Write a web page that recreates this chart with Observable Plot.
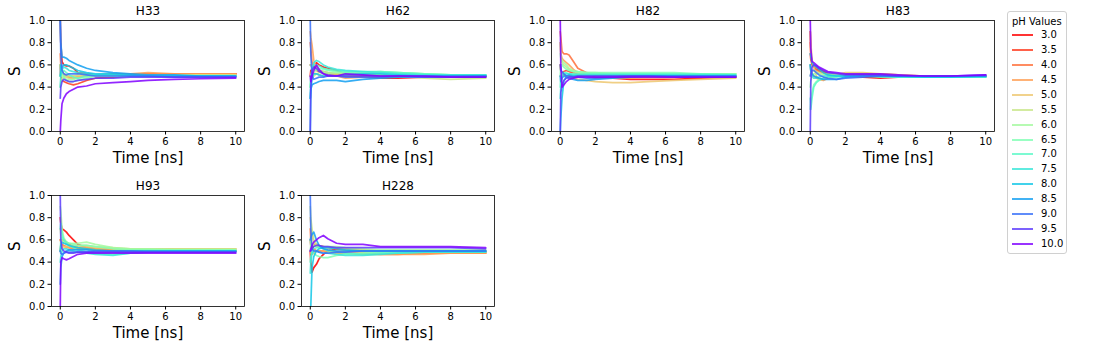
<!DOCTYPE html>
<html>
<head>
<meta charset="utf-8">
<script src="https://cdn.jsdelivr.net/npm/d3@7"></script>
<script src="https://cdn.jsdelivr.net/npm/@observablehq/plot@0.6"></script>
<style>
  body { margin: 0; background: white; font-family: "DejaVu Sans", sans-serif; }
  #root { position: relative; width: 1110px; height: 357px; overflow: hidden; }
  .panel { position: absolute; }
  #legend { position: absolute; left: 1007px; top: 11px; width: 58px; height: 241px;
            border: 1px solid #d0d0d0; border-radius: 3px; background: white; }
  #legend .ttl { position: absolute; left: 4px; top: 3px; font-size: 10px; line-height: 14px; color: #000; }
  #legend .sw { position: absolute; left: 4px; width: 21px; height: 2px; opacity: 0.8; }
  #legend .lb { position: absolute; left: 33px; font-size: 10px; line-height: 14px; color: #000; }
</style>
</head>
<body>
<div id="root"></div>
<script>
const pHValues = ["3.0","3.5","4.0","4.5","5.0","5.5","6.0","6.5","7.0","7.5","8.0","8.5","9.0","9.5","10.0"];
const panelNames = ["H33","H62","H82","H83","H93","H228"];
const timeNs = [0, 0.03, 0.1, 0.2, 0.35, 0.5, 0.75, 1, 1.5, 2, 3, 4, 5, 6.5, 8, 10];
const xTicks = [0, 2, 4, 6, 8, 10];
const yTicks = [0, 0.2, 0.4, 0.6, 0.8, 1.0];

const sH33 = [
  [1.0, 0.8, 0.63, 0.6, 0.59, 0.59, 0.57, 0.53, 0.52, 0.51, 0.51, 0.51, 0.52, 0.52, 0.52, 0.52],
  [0.6, 0.5, 0.46, 0.45, 0.44, 0.43, 0.42, 0.43, 0.46, 0.48, 0.49, 0.5, 0.51, 0.52, 0.52, 0.52],
  [0.7, 0.6, 0.55, 0.52, 0.5, 0.49, 0.48, 0.49, 0.5, 0.5, 0.51, 0.52, 0.52, 0.52, 0.52, 0.52],
  [0.5, 0.55, 0.53, 0.51, 0.5, 0.5, 0.5, 0.5, 0.5, 0.51, 0.52, 0.52, 0.53, 0.52, 0.52, 0.52],
  [0.6, 0.55, 0.52, 0.5, 0.49, 0.48, 0.48, 0.49, 0.5, 0.5, 0.51, 0.51, 0.51, 0.51, 0.51, 0.51],
  [0.4, 0.45, 0.48, 0.49, 0.5, 0.5, 0.5, 0.51, 0.51, 0.51, 0.51, 0.51, 0.51, 0.51, 0.51, 0.51],
  [0.5, 0.52, 0.5, 0.48, 0.47, 0.47, 0.47, 0.48, 0.49, 0.5, 0.5, 0.5, 0.5, 0.5, 0.5, 0.5],
  [0.6, 0.56, 0.53, 0.5, 0.46, 0.45, 0.45, 0.46, 0.48, 0.5, 0.5, 0.5, 0.5, 0.5, 0.5, 0.5],
  [0.5, 0.52, 0.54, 0.55, 0.53, 0.51, 0.49, 0.48, 0.5, 0.51, 0.5, 0.5, 0.5, 0.5, 0.5, 0.5],
  [0.4, 0.5, 0.56, 0.58, 0.57, 0.55, 0.54, 0.53, 0.52, 0.51, 0.51, 0.5, 0.5, 0.5, 0.5, 0.5],
  [0.5, 0.6, 0.58, 0.6, 0.6, 0.59, 0.57, 0.55, 0.53, 0.52, 0.52, 0.51, 0.5, 0.5, 0.5, 0.5],
  [1.0, 0.8, 0.67, 0.67, 0.66, 0.64, 0.62, 0.6, 0.57, 0.55, 0.53, 0.52, 0.51, 0.51, 0.5, 0.5],
  [1.0, 0.7, 0.55, 0.52, 0.51, 0.52, 0.52, 0.52, 0.51, 0.5, 0.5, 0.5, 0.5, 0.49, 0.49, 0.49],
  [0.3, 0.4, 0.45, 0.47, 0.46, 0.45, 0.45, 0.46, 0.47, 0.48, 0.48, 0.49, 0.49, 0.49, 0.49, 0.49],
  [0.0, 0.1, 0.25, 0.3, 0.34, 0.36, 0.38, 0.4, 0.41, 0.43, 0.44, 0.45, 0.46, 0.47, 0.475, 0.48]
];
const sH62 = [
  [0.5, 0.55, 0.55, 0.58, 0.62, 0.6, 0.58, 0.57, 0.55, 0.52, 0.5, 0.48, 0.48, 0.49, 0.5, 0.5],
  [0.6, 0.6, 0.58, 0.56, 0.55, 0.54, 0.53, 0.52, 0.51, 0.5, 0.49, 0.48, 0.49, 0.49, 0.5, 0.5],
  [0.8, 0.75, 0.62, 0.58, 0.56, 0.55, 0.54, 0.53, 0.52, 0.51, 0.5, 0.5, 0.49, 0.49, 0.5, 0.5],
  [0.9, 0.85, 0.78, 0.64, 0.58, 0.55, 0.53, 0.52, 0.5, 0.48, 0.49, 0.5, 0.5, 0.5, 0.5, 0.5],
  [0.5, 0.5, 0.52, 0.53, 0.52, 0.51, 0.5, 0.5, 0.5, 0.5, 0.51, 0.51, 0.5, 0.49, 0.49, 0.49],
  [0.4, 0.45, 0.48, 0.5, 0.52, 0.53, 0.53, 0.52, 0.52, 0.52, 0.52, 0.51, 0.5, 0.48, 0.47, 0.48],
  [0.5, 0.5, 0.52, 0.54, 0.55, 0.55, 0.54, 0.53, 0.53, 0.53, 0.53, 0.53, 0.53, 0.52, 0.51, 0.51],
  [0.6, 0.6, 0.58, 0.56, 0.56, 0.57, 0.56, 0.55, 0.54, 0.53, 0.53, 0.54, 0.53, 0.52, 0.51, 0.51],
  [0.4, 0.5, 0.56, 0.6, 0.6, 0.59, 0.57, 0.56, 0.55, 0.54, 0.54, 0.54, 0.53, 0.52, 0.51, 0.51],
  [0.3, 0.45, 0.55, 0.62, 0.64, 0.63, 0.6, 0.58, 0.56, 0.55, 0.54, 0.53, 0.52, 0.51, 0.51, 0.51],
  [0.0, 0.35, 0.48, 0.52, 0.52, 0.51, 0.5, 0.5, 0.5, 0.51, 0.52, 0.52, 0.51, 0.5, 0.5, 0.5],
  [0.3, 0.38, 0.42, 0.43, 0.44, 0.45, 0.46, 0.46, 0.46, 0.45, 0.47, 0.48, 0.49, 0.49, 0.49, 0.5],
  [1.0, 0.7, 0.5, 0.47, 0.48, 0.49, 0.49, 0.5, 0.5, 0.49, 0.49, 0.49, 0.5, 0.5, 0.5, 0.5],
  [0.0, 0.4, 0.55, 0.58, 0.57, 0.54, 0.52, 0.51, 0.5, 0.5, 0.5, 0.5, 0.5, 0.49, 0.49, 0.49],
  [0.5, 0.45, 0.5, 0.55, 0.6, 0.56, 0.52, 0.5, 0.5, 0.52, 0.51, 0.5, 0.5, 0.5, 0.49, 0.49]
];
const sH82 = [
  [0.6, 0.55, 0.52, 0.51, 0.5, 0.5, 0.5, 0.5, 0.5, 0.49, 0.48, 0.47, 0.47, 0.47, 0.48, 0.49],
  [0.5, 0.5, 0.52, 0.54, 0.55, 0.54, 0.53, 0.52, 0.52, 0.51, 0.52, 0.5, 0.49, 0.49, 0.49, 0.49],
  [0.9, 0.85, 0.72, 0.7, 0.7, 0.69, 0.63, 0.57, 0.53, 0.51, 0.5, 0.5, 0.5, 0.5, 0.5, 0.5],
  [0.8, 0.7, 0.66, 0.64, 0.62, 0.6, 0.56, 0.53, 0.5, 0.48, 0.48, 0.48, 0.49, 0.49, 0.5, 0.5],
  [0.6, 0.55, 0.52, 0.5, 0.5, 0.49, 0.48, 0.47, 0.46, 0.45, 0.44, 0.44, 0.45, 0.46, 0.47, 0.48],
  [0.8, 0.7, 0.62, 0.6, 0.58, 0.56, 0.54, 0.53, 0.52, 0.52, 0.52, 0.52, 0.52, 0.52, 0.52, 0.52],
  [0.7, 0.66, 0.64, 0.62, 0.6, 0.57, 0.55, 0.54, 0.53, 0.53, 0.52, 0.52, 0.52, 0.52, 0.52, 0.52],
  [0.5, 0.6, 0.6, 0.58, 0.56, 0.55, 0.54, 0.54, 0.53, 0.53, 0.53, 0.53, 0.53, 0.53, 0.52, 0.52],
  [0.4, 0.5, 0.52, 0.53, 0.53, 0.52, 0.52, 0.52, 0.52, 0.52, 0.52, 0.52, 0.52, 0.52, 0.52, 0.51],
  [0.3, 0.4, 0.5, 0.52, 0.52, 0.52, 0.51, 0.51, 0.51, 0.51, 0.51, 0.51, 0.51, 0.51, 0.51, 0.51],
  [0.0, 0.12, 0.3, 0.45, 0.5, 0.51, 0.5, 0.5, 0.5, 0.5, 0.5, 0.5, 0.5, 0.5, 0.5, 0.5],
  [0.5, 0.45, 0.48, 0.5, 0.49, 0.48, 0.47, 0.46, 0.46, 0.47, 0.48, 0.49, 0.5, 0.5, 0.5, 0.5],
  [0.6, 0.55, 0.54, 0.52, 0.5, 0.5, 0.49, 0.49, 0.48, 0.48, 0.49, 0.5, 0.5, 0.5, 0.5, 0.5],
  [0.0, 0.35, 0.42, 0.46, 0.48, 0.49, 0.49, 0.5, 0.5, 0.5, 0.5, 0.5, 0.5, 0.49, 0.49, 0.49],
  [1.0, 0.6, 0.4, 0.42, 0.45, 0.47, 0.48, 0.49, 0.49, 0.49, 0.49, 0.49, 0.49, 0.49, 0.49, 0.49]
];
const sH83 = [
  [0.9, 0.7, 0.62, 0.6, 0.58, 0.56, 0.54, 0.52, 0.51, 0.5, 0.49, 0.48, 0.49, 0.5, 0.5, 0.5],
  [0.7, 0.65, 0.6, 0.58, 0.56, 0.55, 0.53, 0.52, 0.51, 0.5, 0.5, 0.49, 0.49, 0.5, 0.5, 0.5],
  [0.8, 0.7, 0.62, 0.58, 0.55, 0.54, 0.53, 0.52, 0.52, 0.52, 0.51, 0.51, 0.5, 0.5, 0.5, 0.5],
  [0.6, 0.55, 0.52, 0.5, 0.48, 0.47, 0.46, 0.48, 0.5, 0.52, 0.52, 0.52, 0.51, 0.5, 0.5, 0.5],
  [0.9, 0.8, 0.65, 0.58, 0.5, 0.47, 0.47, 0.49, 0.51, 0.53, 0.53, 0.52, 0.51, 0.5, 0.5, 0.5],
  [0.5, 0.52, 0.54, 0.55, 0.54, 0.53, 0.52, 0.52, 0.52, 0.52, 0.52, 0.51, 0.5, 0.5, 0.5, 0.5],
  [0.4, 0.45, 0.5, 0.52, 0.52, 0.52, 0.51, 0.51, 0.51, 0.51, 0.5, 0.5, 0.5, 0.49, 0.49, 0.49],
  [0.2, 0.25, 0.35, 0.42, 0.45, 0.47, 0.48, 0.49, 0.5, 0.5, 0.5, 0.5, 0.49, 0.49, 0.49, 0.49],
  [0.3, 0.2, 0.3, 0.4, 0.44, 0.46, 0.48, 0.49, 0.49, 0.5, 0.5, 0.49, 0.49, 0.49, 0.49, 0.49],
  [0.6, 0.55, 0.5, 0.48, 0.48, 0.49, 0.5, 0.5, 0.5, 0.5, 0.5, 0.5, 0.49, 0.49, 0.49, 0.49],
  [0.7, 0.68, 0.62, 0.6, 0.58, 0.56, 0.53, 0.51, 0.5, 0.5, 0.5, 0.5, 0.5, 0.49, 0.49, 0.5],
  [0.6, 0.55, 0.52, 0.5, 0.49, 0.48, 0.47, 0.47, 0.47, 0.49, 0.5, 0.5, 0.5, 0.5, 0.5, 0.5],
  [0.5, 0.52, 0.55, 0.55, 0.53, 0.51, 0.49, 0.48, 0.47, 0.48, 0.49, 0.5, 0.5, 0.5, 0.5, 0.5],
  [0.0, 0.45, 0.58, 0.6, 0.59, 0.57, 0.55, 0.53, 0.52, 0.51, 0.51, 0.51, 0.5, 0.5, 0.5, 0.51],
  [1.0, 0.75, 0.63, 0.62, 0.6, 0.58, 0.56, 0.54, 0.53, 0.52, 0.52, 0.52, 0.51, 0.5, 0.5, 0.51]
];
const sH93 = [
  [0.8, 0.75, 0.7, 0.69, 0.67, 0.64, 0.6, 0.56, 0.53, 0.52, 0.51, 0.51, 0.51, 0.51, 0.5, 0.5],
  [0.6, 0.6, 0.6, 0.6, 0.58, 0.56, 0.54, 0.53, 0.52, 0.51, 0.51, 0.51, 0.51, 0.5, 0.5, 0.5],
  [0.5, 0.55, 0.56, 0.55, 0.54, 0.53, 0.52, 0.52, 0.52, 0.52, 0.51, 0.51, 0.52, 0.52, 0.51, 0.51],
  [0.6, 0.58, 0.55, 0.54, 0.53, 0.53, 0.53, 0.53, 0.53, 0.52, 0.52, 0.52, 0.52, 0.52, 0.52, 0.52],
  [0.5, 0.52, 0.53, 0.54, 0.54, 0.54, 0.54, 0.54, 0.54, 0.53, 0.52, 0.52, 0.52, 0.52, 0.52, 0.52],
  [0.7, 0.65, 0.6, 0.58, 0.56, 0.55, 0.55, 0.55, 0.55, 0.54, 0.53, 0.52, 0.52, 0.52, 0.52, 0.52],
  [0.9, 0.86, 0.7, 0.62, 0.58, 0.57, 0.57, 0.57, 0.58, 0.56, 0.53, 0.52, 0.52, 0.51, 0.51, 0.51],
  [0.5, 0.6, 0.62, 0.6, 0.58, 0.57, 0.56, 0.55, 0.55, 0.54, 0.52, 0.51, 0.51, 0.51, 0.51, 0.51],
  [0.7, 0.75, 0.65, 0.6, 0.57, 0.55, 0.53, 0.51, 0.49, 0.48, 0.47, 0.48, 0.49, 0.5, 0.5, 0.5],
  [0.4, 0.45, 0.5, 0.52, 0.52, 0.51, 0.5, 0.49, 0.48, 0.47, 0.46, 0.48, 0.49, 0.5, 0.5, 0.5],
  [0.5, 0.55, 0.58, 0.57, 0.56, 0.55, 0.54, 0.53, 0.52, 0.51, 0.5, 0.5, 0.5, 0.5, 0.5, 0.5],
  [0.2, 0.35, 0.45, 0.48, 0.5, 0.51, 0.51, 0.51, 0.51, 0.5, 0.5, 0.5, 0.5, 0.5, 0.5, 0.5],
  [0.5, 0.48, 0.47, 0.48, 0.49, 0.49, 0.49, 0.49, 0.49, 0.5, 0.5, 0.5, 0.49, 0.49, 0.49, 0.49],
  [1.0, 0.6, 0.52, 0.5, 0.49, 0.48, 0.48, 0.49, 0.49, 0.49, 0.49, 0.49, 0.49, 0.49, 0.49, 0.49],
  [0.0, 0.4, 0.44, 0.43, 0.42, 0.43, 0.45, 0.47, 0.48, 0.48, 0.48, 0.48, 0.48, 0.48, 0.48, 0.48]
];
const sH228 = [
  [0.5, 0.4, 0.31, 0.35, 0.38, 0.43, 0.47, 0.5, 0.52, 0.52, 0.51, 0.5, 0.5, 0.5, 0.5, 0.5],
  [0.6, 0.55, 0.52, 0.55, 0.56, 0.55, 0.54, 0.53, 0.52, 0.51, 0.5, 0.5, 0.49, 0.49, 0.49, 0.49],
  [0.7, 0.6, 0.55, 0.52, 0.5, 0.5, 0.5, 0.5, 0.49, 0.48, 0.48, 0.47, 0.47, 0.48, 0.48, 0.48],
  [0.5, 0.48, 0.47, 0.48, 0.5, 0.5, 0.5, 0.49, 0.48, 0.48, 0.47, 0.47, 0.47, 0.47, 0.48, 0.48],
  [0.8, 0.75, 0.65, 0.58, 0.55, 0.53, 0.52, 0.51, 0.5, 0.5, 0.49, 0.49, 0.49, 0.49, 0.49, 0.49],
  [0.9, 0.8, 0.7, 0.6, 0.56, 0.54, 0.53, 0.53, 0.53, 0.52, 0.51, 0.5, 0.5, 0.5, 0.5, 0.5],
  [0.5, 0.55, 0.56, 0.55, 0.54, 0.54, 0.54, 0.54, 0.54, 0.53, 0.52, 0.51, 0.51, 0.51, 0.51, 0.51],
  [0.6, 0.55, 0.5, 0.48, 0.46, 0.45, 0.44, 0.44, 0.46, 0.47, 0.48, 0.49, 0.49, 0.49, 0.5, 0.5],
  [0.4, 0.45, 0.5, 0.52, 0.53, 0.53, 0.52, 0.5, 0.49, 0.48, 0.47, 0.48, 0.48, 0.49, 0.49, 0.49],
  [0.3, 0.4, 0.48, 0.5, 0.5, 0.49, 0.48, 0.48, 0.47, 0.46, 0.46, 0.47, 0.48, 0.49, 0.49, 0.49],
  [0.0, 0.0, 0.35, 0.45, 0.5, 0.52, 0.53, 0.53, 0.52, 0.51, 0.5, 0.5, 0.5, 0.5, 0.5, 0.5],
  [0.6, 0.62, 0.65, 0.67, 0.6, 0.55, 0.52, 0.51, 0.5, 0.5, 0.5, 0.5, 0.5, 0.5, 0.5, 0.5],
  [1.0, 0.7, 0.52, 0.5, 0.5, 0.49, 0.48, 0.48, 0.49, 0.49, 0.5, 0.5, 0.5, 0.5, 0.5, 0.5],
  [0.5, 0.5, 0.52, 0.54, 0.55, 0.55, 0.54, 0.54, 0.53, 0.53, 0.53, 0.53, 0.53, 0.53, 0.53, 0.52],
  [0.5, 0.52, 0.55, 0.58, 0.6, 0.62, 0.64, 0.61, 0.57, 0.56, 0.56, 0.54, 0.54, 0.54, 0.54, 0.53]
];
const panelSeries = [sH33, sH62, sH82, sH83, sH93, sH228];

// matplotlib "rainbow" colormap, reversed over the pH list
function rainbow(x) {
  const r = Math.min(1, Math.abs(2 * x - 0.5));
  const g = Math.max(0, Math.sin(Math.PI * x));
  const b = Math.max(0, Math.cos(Math.PI * x / 2));
  return d3.rgb(r * 255, g * 255, b * 255).formatHex();
}
const phColors = pHValues.map((_, i) => rainbow(1 - i / (pHValues.length - 1)));

const root = document.getElementById("root");
const FONT = "DejaVu Sans, sans-serif";

panelNames.forEach((name, p) => {
  const rows = [];
  panelSeries[p].forEach((vals, i) => {
    vals.forEach((v, k) => rows.push({ t: timeNs[k], s: v, pH: pHValues[i] }));
  });
  const chart = Plot.plot({
    width: 250,
    height: 175,
    marginLeft: 51,
    marginRight: 6,
    marginTop: 20,
    marginBottom: 44,
    style: { fontFamily: FONT, fontSize: "10px", color: "black", background: "white", overflow: "visible" },
    x: { domain: [-0.5, 10.5], ticks: xTicks, tickSize: 3.5, tickPadding: 3, label: null, tickFormat: d => String(d) },
    y: { domain: [0, 1], ticks: yTicks, tickSize: 3.5, tickPadding: 3, label: null, tickFormat: d => d.toFixed(1) },
    color: { domain: pHValues, range: phColors },
    marks: [
      Plot.line(rows, { x: "t", y: "s", z: "pH", stroke: "pH", strokeWidth: 1.7, strokeOpacity: 0.85, clip: true }),
      Plot.frame({ stroke: "black", strokeWidth: 0.8 }),
      Plot.text([name], { text: d => d, frameAnchor: "top", lineAnchor: "bottom", dy: -6, fontSize: 12, fill: "black" }),
      Plot.text(["Time [ns]"], { text: d => d, frameAnchor: "bottom", lineAnchor: "middle", dy: 27, fontSize: 15, fill: "black" }),
      Plot.text(["S"], { text: d => d, frameAnchor: "left", lineAnchor: "middle", rotate: -90, dx: -36, fontSize: 15, fill: "black" })
    ]
  });
  const col = p % 4, row = Math.floor(p / 4);
  const wrap = document.createElement("div");
  wrap.className = "panel";
  wrap.style.left = (col * 250) + "px";
  wrap.style.top = (row * 175) + "px";
  wrap.appendChild(chart);
  root.appendChild(wrap);
});

// legend
const leg = document.createElement("div");
leg.id = "legend";
const ttl = document.createElement("div");
ttl.className = "ttl";
ttl.textContent = "pH Values";
leg.appendChild(ttl);
pHValues.forEach((ph, i) => {
  const cy = 23 + i * 14.93;
  const sw = document.createElement("div");
  sw.className = "sw";
  sw.style.top = (cy - 1) + "px";
  sw.style.background = phColors[i];
  leg.appendChild(sw);
  const lb = document.createElement("div");
  lb.className = "lb";
  lb.style.top = (cy - 7) + "px";
  lb.textContent = ph;
  leg.appendChild(lb);
});
root.appendChild(leg);
</script>
</body>
</html>
